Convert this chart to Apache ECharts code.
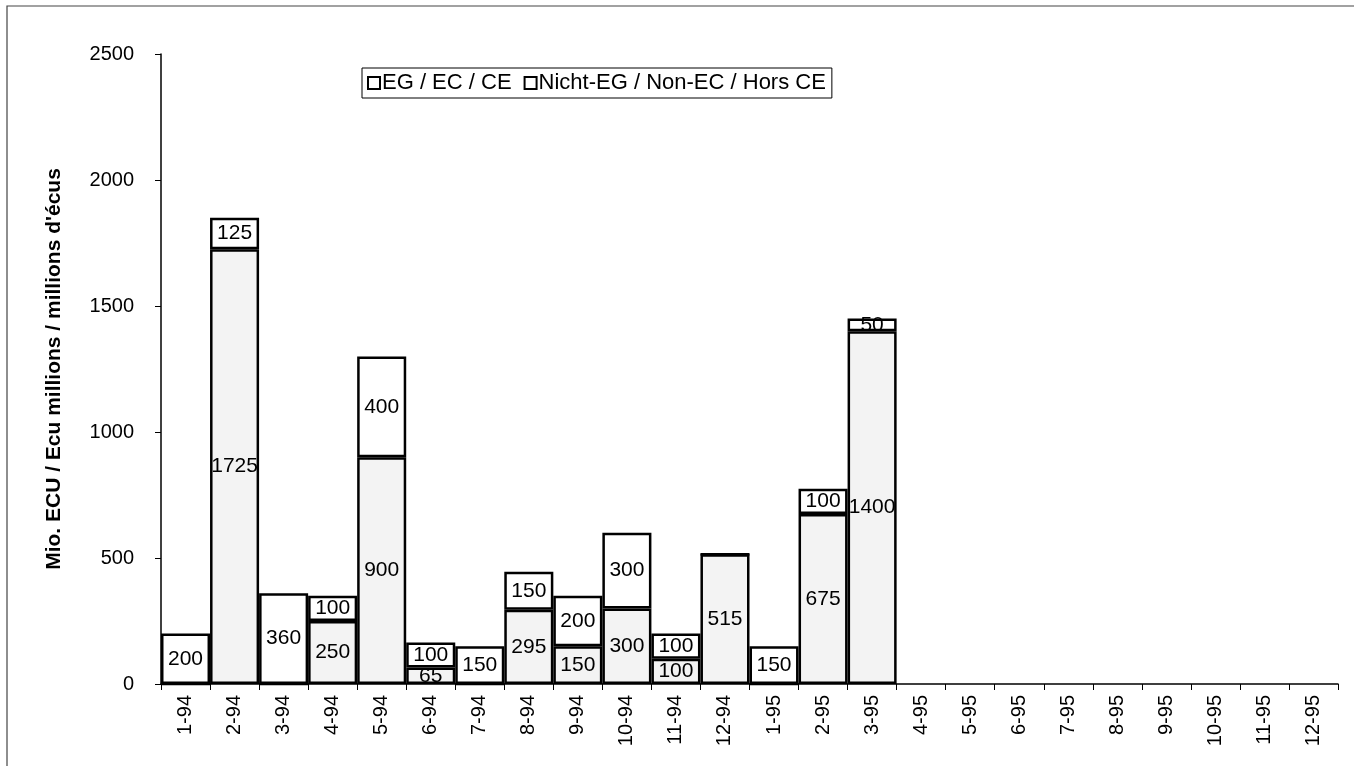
<!DOCTYPE html>
<html><head><meta charset="utf-8">
<script src="https://cdn.jsdelivr.net/npm/echarts@6/dist/echarts.min.js"></script>
<style>html,body{margin:0;padding:0;background:#fff}#c{width:1354px;height:766px}</style>
</head><body><div id="c"></div>
<script>
const categories = ['1-94','2-94','3-94','4-94','5-94','6-94','7-94','8-94','9-94','10-94','11-94','12-94',
  '1-95','2-95','3-95','4-95','5-95','6-95','7-95','8-95','9-95','10-95','11-95','12-95'];
const euValues    = [0,1725,0,250,900,65,0,295,150,300,100,515,0,675,1400,null,null,null,null,null,null,null,null,null];
const nonEuValues = [200,125,360,100,400,100,150,150,200,300,100,0,150,100,50,null,null,null,null,null,null,null,null,null];
const yTicks = [0,500,1000,1500,2000,2500];
const seriesNames = ['EG / EC / CE','Nicht-EG / Non-EC / Hors CE'];

const font = 'Liberation Sans, Arial, sans-serif';
const chart = echarts.init(document.getElementById('c'));
const lbl = {show:true, position:'inside', color:'#000', fontSize:21, fontFamily:font,
  formatter: p => (p.value ? p.value : '')};
chart.setOption({
  animation:false,
  backgroundColor:'#fff',
  grid:{left:161, right:16, top:54, bottom:82, containLabel:false},
  legend:{
    left:362, top:68, itemWidth:12, itemHeight:12, itemGap:12,
    borderColor:'#000', borderWidth:1, padding:[4,6,4,5],
    textStyle:{fontSize:22, fontFamily:font, color:'#000', padding:[0,0,0,-3]},
    data:seriesNames.map(n=>({name:n, icon:'rect', itemStyle:{color:'#fff', borderColor:'#000', borderWidth:2}}))
  },
  xAxis:{
    type:'category', data:categories,
    axisLine:{lineStyle:{color:'#000', width:1.5}},
    axisTick:{show:true, length:6, lineStyle:{color:'#000'}},
    axisLabel:{rotate:90, fontSize:20, fontFamily:font, color:'#000', margin:11}
  },
  yAxis:{
    type:'value', min:0, max:2500, interval:500,
    name:'Mio. ECU / Ecu millions / millions d\'écus', nameLocation:'middle', nameGap:96,
    nameTextStyle:{fontSize:21, fontWeight:'bold', fontFamily:font, color:'#000'},
    axisLine:{show:true, lineStyle:{color:'#000', width:1.5}},
    axisTick:{show:true, length:6, lineStyle:{color:'#000'}},
    splitLine:{show:false},
    axisLabel:{fontSize:20, fontFamily:font, color:'#000', margin:27,
      formatter: v => yTicks.includes(v) ? String(v) : ''}
  },
  series:[
    {name:seriesNames[0], type:'bar', stack:'t', data:euValues, barCategoryGap:'0%',
     itemStyle:{color:'#f3f3f3', borderColor:'#000', borderWidth:2.5}, label:lbl},
    {name:seriesNames[1], type:'bar', stack:'t', data:nonEuValues, barCategoryGap:'0%',
     itemStyle:{color:'#fff', borderColor:'#000', borderWidth:2.5}, label:lbl}
  ],
  graphic:[{type:'polyline', shape:{points:[[7,766],[7,6],[1354,6]]}, style:{fill:null, stroke:'#444', lineWidth:1.2}, silent:true}]
});
</script></body></html>
